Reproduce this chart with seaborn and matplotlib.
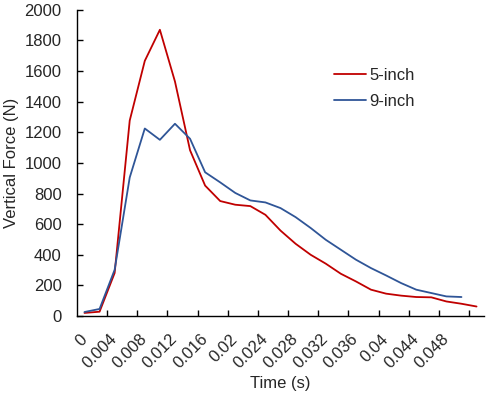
import matplotlib
matplotlib.use("Agg")
import matplotlib.pyplot as plt
import seaborn as sns
import pandas as pd

# time steps (s), one per category
time_s = [round(0.002 * i, 3) for i in range(27)]

force_5inch = [20, 28, 281, 1277, 1667, 1870, 1532, 1083, 852, 751, 727, 718,
               661, 558, 472, 400, 342, 276, 226, 172, 146, 133, 124, 122, 95, 80, 62]
force_9inch = [26, 46, 302, 905, 1225, 1151, 1256, 1158, 939, 873, 804, 755,
               742, 705, 646, 575, 498, 433, 368, 313, 265, 215, 172, 150, 128, 124]

tick_labels = ["0", "0.004", "0.008", "0.012", "0.016", "0.02", "0.024",
               "0.028", "0.032", "0.036", "0.04", "0.044", "0.048"]

rows = []
for i, v in enumerate(force_5inch):
    rows.append({"idx": i, "force": v, "series": "5-inch"})
for i, v in enumerate(force_9inch):
    rows.append({"idx": i, "force": v, "series": "9-inch"})
df = pd.DataFrame(rows)

sns.set_style("white")
plt.rcParams["font.family"] = ["Liberation Sans", "DejaVu Sans"]

fig, ax = plt.subplots(figsize=(4.87, 3.95), dpi=100)
fig.subplots_adjust(left=0.158, right=0.994, top=0.975, bottom=0.2)

sns.lineplot(data=df, x="idx", y="force", hue="series",
             palette={"5-inch": "#C00000", "9-inch": "#2F5597"},
             linewidth=1.3, ax=ax)

ax.set_xlim(-0.5, len(time_s) - 0.5)
ax.set_ylim(0, 2000)
ax.set_yticks(range(0, 2001, 200))
ax.tick_params(axis="y", left=True, labelsize=12, direction="in", length=4,
               width=1, color="black", pad=11)

# tick marks between categories, labels on every second category
ax.set_xticks([i + 1.5 for i in range(0, len(time_s) - 1, 2)])
ax.set_xticks(list(range(0, len(tick_labels) * 2, 2)), minor=True)
ax.set_xticklabels([])
ax.set_xticklabels(tick_labels, minor=True, rotation=45, ha="right", va="center",
                   rotation_mode="anchor")
ax.tick_params(axis="x", which="major", bottom=True, direction="in", length=4,
               width=1, color="black")
ax.tick_params(axis="x", which="minor", bottom=True, length=0, labelsize=12, pad=15)

for side in ["top", "right"]:
    ax.spines[side].set_visible(False)
for side in ["left", "bottom"]:
    ax.spines[side].set_color("black")
    ax.spines[side].set_linewidth(1)

ax.set_xlabel("Time (s)", fontsize=12, labelpad=3.5)
ax.set_ylabel("Vertical Force (N)", fontsize=12, labelpad=4)

ax.legend(title=None, frameon=False, fontsize=12, loc="upper left",
          bbox_to_anchor=(0.595, 0.86), handlelength=1.9, handletextpad=0.2,
          labelspacing=0.65)

fig.savefig("out.png", dpi=100)
